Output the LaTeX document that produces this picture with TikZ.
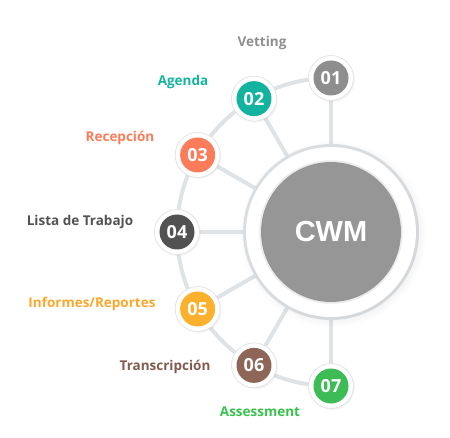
\documentclass[tikz,border=0pt]{standalone}
\usepackage{fontspec}
\setmainfont{Open Sans}
\newfontfamily\cwmfont{Liberation Sans}
\usetikzlibrary{shadows,calc}
\definecolor{conn}{HTML}{DFE3E6}
\definecolor{ringedge}{HTML}{E2E4E6}
\definecolor{cgray}{HTML}{8E8E8E}
\definecolor{cteal}{HTML}{14B3A0}
\definecolor{ccoral}{HTML}{FB7C5A}
\definecolor{cdark}{HTML}{525252}
\definecolor{corange}{HTML}{FBB02E}
\definecolor{cbrown}{HTML}{8E6657}
\definecolor{cgreen}{HTML}{3DBB55}
\definecolor{cwmgray}{HTML}{969696}
\tikzset{
  connline/.style={draw=conn,line width=4pt},
  ringnode/.style={circle,fill=white,draw=ringedge,line width=0.8pt,minimum size=45pt,inner sep=0pt,
     circular drop shadow={shadow xshift=1.2pt,shadow yshift=-1.2pt,opacity=0.18,shadow scale=1.02}},
  numnode/.style={circle,fill=#1,minimum size=35pt,inner sep=0pt,text=white,font=\fontsize{18}{18}\selectfont\bfseries},
  lbl/.style={text=#1,font=\fontsize{13.5}{14}\selectfont\bfseries,inner sep=0pt}
}
\begin{document}
\begin{tikzpicture}[x=1pt,y=1pt]
\useasboundingbox (0,0) rectangle (450,437);
\coordinate (C) at (331,205);
\foreach \i/\a in {1/90,2/120,3/150,4/180,5/210,6/240,7/270}{
  \coordinate (p\i) at ($(C)+(\a:154)$);
}
% connectors
\draw[connline] (p1) arc[start angle=90,end angle=270,radius=154];
\foreach \i in {1,...,7}{ \draw[connline] (p\i) -- (C); }
% central circle
\fill[conn] (C) circle[radius=88];
\node[circle,fill=white,minimum size=170pt,inner sep=0pt,
  circular drop shadow={shadow xshift=1.5pt,shadow yshift=-1.5pt,opacity=0.15}] (ring) at (C) {};
\draw[draw=black!8,line width=1.5pt] (C) circle[radius=71];
\node[circle,fill=cwmgray,minimum size=140pt,inner sep=0pt,text=white,
  font=\cwmfont\fontsize{29}{29}\selectfont\bfseries] (cwm) at (C) {CWM};
% small circles
\foreach \i/\c in {1/cgray,2/cteal,3/ccoral,4/cdark,5/corange,6/cbrown,7/cgreen}{
  \node[ringnode] (r\i) at (p\i) {};
  \node[numnode=\c] (n\i) at (p\i) {0\i};
}
% labels
\node[lbl=cgray] (l1) at (262,394) {Vetting};
\node[lbl=cteal] (l2) at (183,355) {Agenda};
\node[lbl=ccoral] (l3) at (120,299) {Recepción};
\node[lbl=cdark] (l4) at (80,215) {Lista de Trabajo};
\node[lbl=corange!95!red] (l5) at (92,133) {Informes/Reportes};
\node[lbl=cbrown!90!black] (l6) at (165,70) {Transcripción};
\node[lbl=cgreen!90!green] (l7) at (260,25) {Assessment};
\end{tikzpicture}
\end{document}
